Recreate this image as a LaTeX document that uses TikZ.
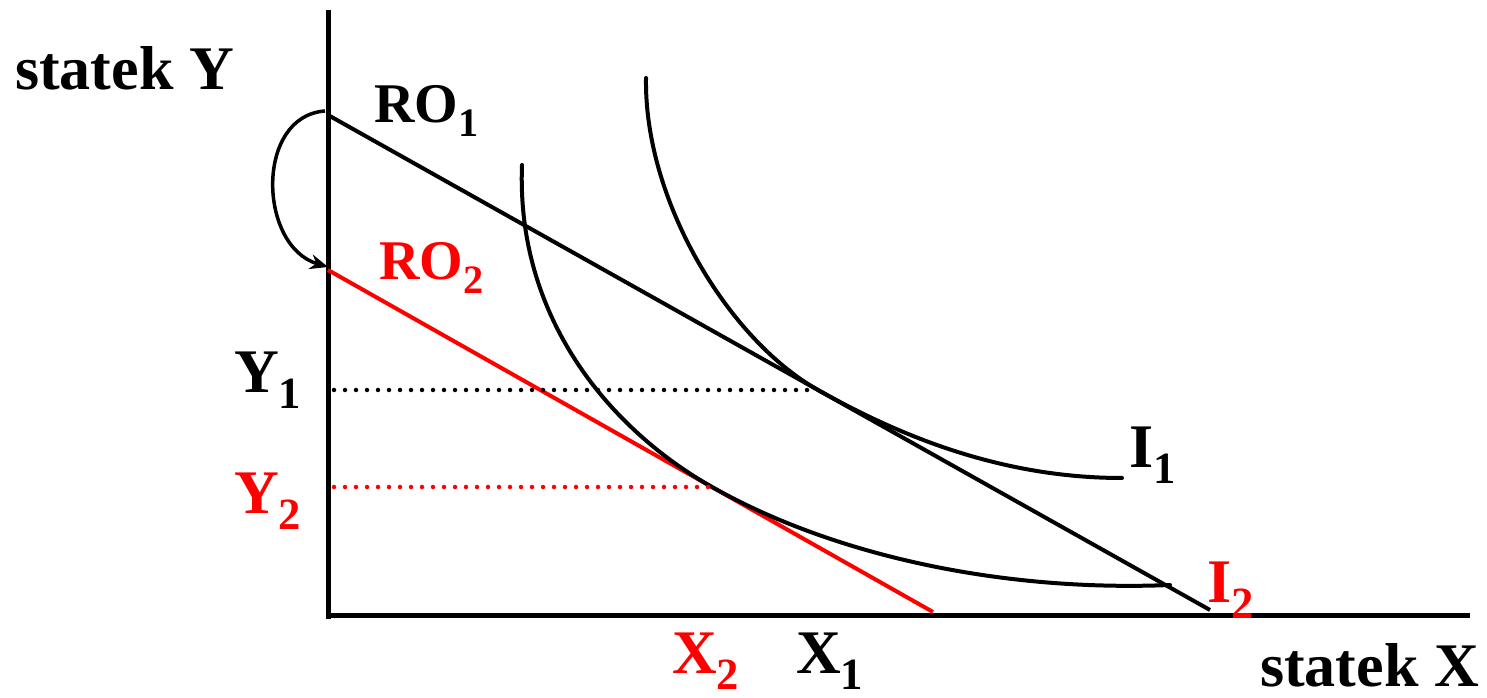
\documentclass[tikz,border=0pt]{standalone}
\usepackage{fontspec}
\setmainfont{Liberation Serif}
\usetikzlibrary{arrows.meta}
\definecolor{budred}{RGB}{255, 0, 0}
\newcommand{\lowidx}[1]{\raisebox{-0.25em}{\scalebox{0.72}{#1}}}
\tikzset{
  axis/.style={line width=5pt, black},
  budget/.style={line width=4pt},
  indiff/.style={line width=4pt, black, line cap=round},
  guide/.style={line width=4.5pt, line cap=round, dash pattern=on 0pt off 11pt},
  lbl/.style={anchor=base west, inner sep=0pt,
    font=\fontsize{62}{70}\selectfont\bfseries},
  rolbl/.style={lbl, font=\fontsize{56}{62}\selectfont\bfseries},
  shiftarr/.style={-{Stealth[length=18pt, width=15pt]}, line width=3.5pt},
}

\begin{document}
\begin{tikzpicture}[x=1pt, y=1pt]
  \useasboundingbox (0,0) rectangle (1487,698);

  % Points
  \coordinate (ytop)  at (328,688);
  \coordinate (ybot)  at (328,79);
  \coordinate (xleft) at (326,82);
  \coordinate (xend)  at (1470,82);
  \coordinate (ro1a)  at (328,583);
  \coordinate (ro1b)  at (1210,88);
  \coordinate (ro2a)  at (328,428);
  \coordinate (ro2b)  at (933,86);
  \coordinate (e1)    at (818,308);
  \coordinate (e2)    at (712,211);
  \coordinate (y1)    at (334,308);
  \coordinate (y2)    at (334,211);
  \coordinate (arrs)  at (325,587);
  \coordinate (arre)  at (328,431);

  % Axes
  \draw[axis] (ybot) -- (ytop);
  \draw[axis] (xleft) -- (xend);

  % Budget lines
  \draw[budget, black] (ro1a) -- (ro1b);
  \draw[budget, budred] (ro2a) -- (ro2b);

  % Indifference curves
  \draw[indiff] (646,620) .. controls (644,498) and (728,358.5) .. (e1)
    .. controls (898,263) and (1000,220) .. (1122,220);
  \draw[indiff] (522,533) .. controls (516,378) and (612,267.5) .. (e2)
    .. controls (832,143.2) and (1000,106) .. (1170,113);

  % Guides
  \draw[guide, black] (y1) -- (e1);
  \draw[guide, budred] (y2) -- (e2);

  % Shift arrow
  \draw[shiftarr] (arrs) .. controls (255,582) and (258,452) .. (arre);

  % Labels
  \node[lbl] (statY) at (15,608) {statek Y};
  \node[lbl] (statX) at (1260,12) {statek X};
  \node[rolbl] (ro1lbl) at (374,575) {RO\lowidx{1}};
  \node[rolbl, text=budred] (ro2lbl) at (379,418) {RO\lowidx{2}};
  \node[lbl] (y1lbl) at (234,305) {Y\lowidx{1}};
  \node[lbl, text=budred] (y2lbl) at (234,184) {Y\lowidx{2}};
  \node[lbl] (i1lbl) at (1129,230) {I\lowidx{1}};
  \node[lbl, text=budred] (i2lbl) at (1207,95) {I\lowidx{2}};
  \node[lbl, text=budred] (x2lbl) at (672,24) {X\lowidx{2}};
  \node[lbl] (x1lbl) at (796,24) {X\lowidx{1}};

\end{tikzpicture}
\end{document}
